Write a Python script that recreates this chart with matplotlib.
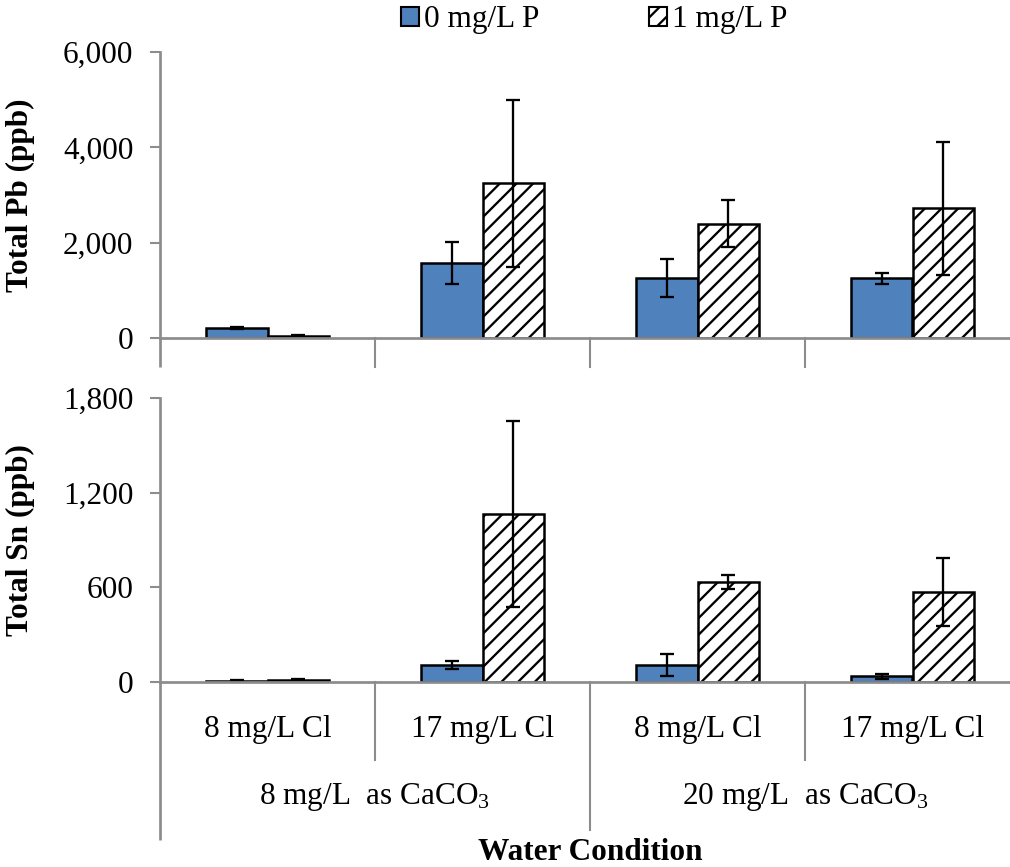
import matplotlib
matplotlib.use("Agg")
import matplotlib.pyplot as plt
import matplotlib.transforms as mtransforms
from matplotlib.patches import Patch
from matplotlib.ticker import FuncFormatter
import numpy as np

# ---- data ----
categories = ["8 mg/L Cl", "17 mg/L Cl", "8 mg/L Cl", "17 mg/L Cl"]
groups = ["8 mg/L  as CaCO$_3$", "20 mg/L  as CaCO$_3$"]
series = ["0 mg/L P", "1 mg/L P"]

pb_0 = [210, 1580, 1250, 1250]
pb_0_err = [30, 440, 400, 120]
pb_1 = [50, 3250, 2400, 2720]
pb_1_err = [10, 1750, 500, 1400]

sn_0 = [8, 110, 110, 35]
sn_0_err = [3, 25, 70, 18]
sn_1 = [10, 1065, 635, 570]
sn_1_err = [8, 590, 45, 215]

pb_ticks = [0, 2000, 4000, 6000]
sn_ticks = [0, 600, 1200, 1800]

# ---- style ----
plt.rcParams['font.family'] = ['Liberation Serif', 'DejaVu Serif']
plt.rcParams['hatch.linewidth'] = 1.1
plt.rcParams['mathtext.fontset'] = 'custom'
plt.rcParams['mathtext.rm'] = 'Liberation Serif'
plt.rcParams['mathtext.it'] = 'Liberation Serif:italic'
plt.rcParams['mathtext.bf'] = 'Liberation Serif:bold'

BLUE = "#4F81BD"
GRAY = "#8C8C8C"
DPI = 150
W, H = 1010, 867
fig = plt.figure(figsize=(W / DPI, H / DPI), dpi=DPI)

def px_axes(left, right, top, bottom):
    return fig.add_axes([left / W, 1 - bottom / H, (right - left) / W, (bottom - top) / H])

ax1 = px_axes(160, 1020, 52, 338)
ax2 = px_axes(160, 1020, 398, 682)

x = np.arange(len(categories))
bw = 0.288
fs = 15

def draw(ax, v0, e0, v1, e1, ticks, ylabel, sep_depth, spine_depth, grp_depth=None):
    ekw = dict(ecolor="black", elinewidth=1.1, capsize=3.3, capthick=1.1)
    ax.bar(x - bw / 2, v0, bw, color=BLUE, edgecolor="black", linewidth=1.2,
           yerr=e0, error_kw=ekw, label=series[0], zorder=2)
    ax.bar(x + bw / 2, v1, bw, color="white", edgecolor="black", linewidth=1.2, hatch="///",
           yerr=e1, error_kw=ekw, label=series[1], zorder=2)
    ax.set_xlim(-0.5, len(categories) - 0.5)
    ax.set_ylim(ticks[0], ticks[-1])
    ax.set_yticks(ticks)
    ax.yaxis.set_major_formatter(FuncFormatter(lambda v, p: f"{int(v):,}"))
    for s in ["top", "right"]:
        ax.spines[s].set_visible(False)
    for s in ["left", "bottom"]:
        ax.spines[s].set_color(GRAY)
        ax.spines[s].set_linewidth(1.3)
    ax.tick_params(axis="y", direction="out", length=4.8, width=1.0, color=GRAY,
                   labelsize=fs, pad=8)
    ax.set_xticks([])
    ax.set_ylabel(ylabel, fontsize=fs, fontweight="bold")
    ax.yaxis.set_label_coords(-125 / 860, 0.5)
    trans = mtransforms.blended_transform_factory(ax.transData, ax.transAxes)
    for i, xs in enumerate(np.arange(0.5, len(categories) - 0.5, 1.0)):
        d = sep_depth
        if grp_depth is not None and i == 1:
            d = grp_depth
        ax.plot([xs, xs], [0, d], transform=trans, color=GRAY, lw=1.0, clip_on=False)
    ax.plot([0, 0], [0, spine_depth], transform=ax.transAxes, color=GRAY, lw=1.3,
            clip_on=False, solid_capstyle="butt")

draw(ax1, pb_0, pb_0_err, pb_1, pb_1_err, pb_ticks, "Total Pb (ppb)",
     (338 - 367) / 286, (338 - 367) / 286)
draw(ax2, sn_0, sn_0_err, sn_1, sn_1_err, sn_ticks, "Total Sn (ppb)",
     (682 - 760) / 284, (682 - 840) / 284, grp_depth=(682 - 830) / 284)

trans2 = mtransforms.blended_transform_factory(ax2.transData, ax2.transAxes)
for i, c in enumerate(categories):
    ax2.text(x[i], (682 - 730) / 284, c, transform=trans2, ha="center", va="center", fontsize=fs)
for g, gx in zip(groups, [0.5, 2.5]):
    ax2.text(gx, (682 - 797) / 284, g, transform=trans2, ha="center", va="center", fontsize=fs)
fig.text(590 / W, 1 - 853 / H, "Water Condition", ha="center", va="center",
         fontsize=fs, fontweight="bold")

handles = [Patch(facecolor=BLUE, edgecolor="black", linewidth=1.0),
           Patch(facecolor="white", edgecolor="black", linewidth=1.0, hatch="///")]
fig.legend(handles, series, loc="center", bbox_to_anchor=(594 / W, 1 - 20 / H), ncol=2,
           frameon=False, fontsize=fs, handlelength=0.6, handleheight=0.6,
           handletextpad=0.15, columnspacing=3.5, borderpad=0)

fig.savefig("out.png", dpi=DPI)
